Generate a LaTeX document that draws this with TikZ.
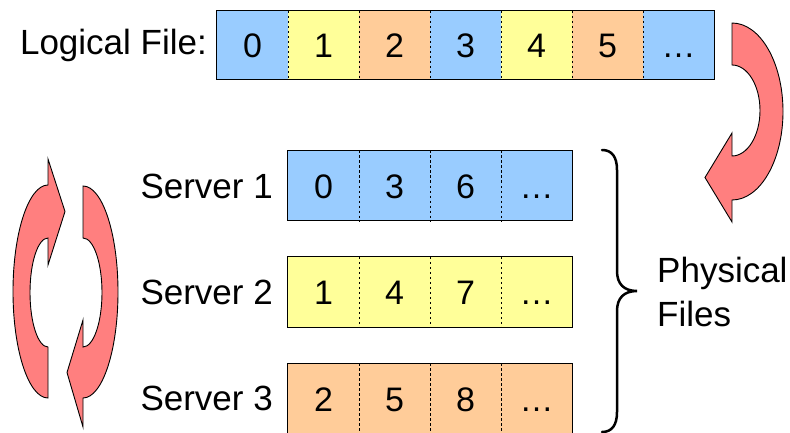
\documentclass[tikz,border=0pt]{standalone}
\usepackage{fontspec}
\setmainfont{Liberation Sans}
\definecolor{cblue}{HTML}{99CCFF}
\definecolor{cyel}{HTML}{FFFF99}
\definecolor{corg}{HTML}{FFCC99}
\definecolor{carrow}{HTML}{FF7F7F}
\begin{document}
\begin{tikzpicture}[x=1pt,y=-1pt,
  cell/.style={rectangle, minimum width=71pt, minimum height=70pt, inner sep=0pt,
    text height=25pt, text depth=0pt, font=\fontsize{34}{40}\selectfont},
  lbl/.style={inner sep=0pt, font=\fontsize{35}{44}\selectfont, anchor=base east},
  plbl/.style={inner sep=0pt, font=\fontsize{35}{44}\selectfont, anchor=base west},
  frame/.style={draw=black, line width=0.9pt},
  divider/.style={draw=black, line width=0.7pt, dash pattern=on 2.5pt off 2.5pt},
  rarrow/.style={fill=carrow, draw=black, line width=0.9pt, line join=miter},
  bracestyle/.style={draw=black, line width=2.5pt, line cap=round}]
\useasboundingbox (0,0) rectangle (790,433);

% Logical file
\node[lbl] (loglab) at (207,55) {Logical File:};
\foreach \i/\c/\t in {0/cblue/0, 1/cyel/1, 2/corg/2, 3/cblue/3, 4/cyel/4, 5/corg/5, 6/cblue/…}
  \node[cell, minimum height=68pt, fill=\c] (l\i) at ({252.5+71*\i},45) {\t};
\foreach \i in {0,...,5}
  \draw[divider] (l\i.north east) -- (l\i.south east);
\draw[frame] (l0.north west) rectangle (l6.south east);

% Servers
\foreach \s/\y/\c/\a/\b/\d in {1/185.7/cblue/0/3/6, 2/292/cyel/1/4/7, 3/398.5/corg/2/5/8}{
  \node[cell, fill=\c] (s\s c0) at (323.5,\y) {\a};
  \node[cell, fill=\c] (s\s c1) at (394.5,\y) {\b};
  \node[cell, fill=\c] (s\s c2) at (465.5,\y) {\d};
  \node[cell, fill=\c] (s\s c3) at (536.5,\y) {…};
  \foreach \i in {0,1,2}
    \draw[divider] (s\s c\i.north east) -- (s\s c\i.south east);
  \draw[frame] (s\s c0.north west) rectangle (s\s c3.south east);
}
\node[lbl] (s1lab) at (273,198.5) {Server 1};
\node[lbl] (s2lab) at (273,304.5) {Server 2};
\node[lbl] (s3lab) at (273,410.5) {Server 3};

% Brace and label
\draw[bracestyle] (602,150) .. controls (612,150) and (617,157) .. (617,170)
  -- (617,271) .. controls (617,284) and (624,291) .. (637,291)
  .. controls (624,291) and (617,298) .. (617,311)
  -- (617,412) .. controls (617,425) and (612,432) .. (602,432);
\node[plbl] (phys) at (657,282) {Physical};
\node[plbl] (files) at (657,326) {Files};

% Top-right curved arrow
\draw[rarrow] (732,23) arc[start angle=90, end angle=-90, x radius=51pt, y radius=88.5pt]
  -- (732,222) -- (705,177.5) -- (732,133) -- (732,156)
  arc[start angle=-90, end angle=90, x radius=28pt, y radius=45.5pt] -- cycle;

% Left circular arrows
\draw[rarrow] (48,398) arc[start angle=270, end angle=90, x radius=35pt, y radius=106.5pt]
  -- (48,159) -- (65,211.5) -- (48,265) -- (48,238)
  arc[start angle=90, end angle=270, x radius=18pt, y radius=54.5pt] -- cycle;
\draw[rarrow] (83,186) arc[start angle=90, end angle=-90, x radius=35pt, y radius=106pt]
  -- (83,427) -- (67,372.5) -- (83,320) -- (83,347)
  arc[start angle=-90, end angle=90, x radius=19pt, y radius=54.5pt] -- cycle;
\end{tikzpicture}
\end{document}
